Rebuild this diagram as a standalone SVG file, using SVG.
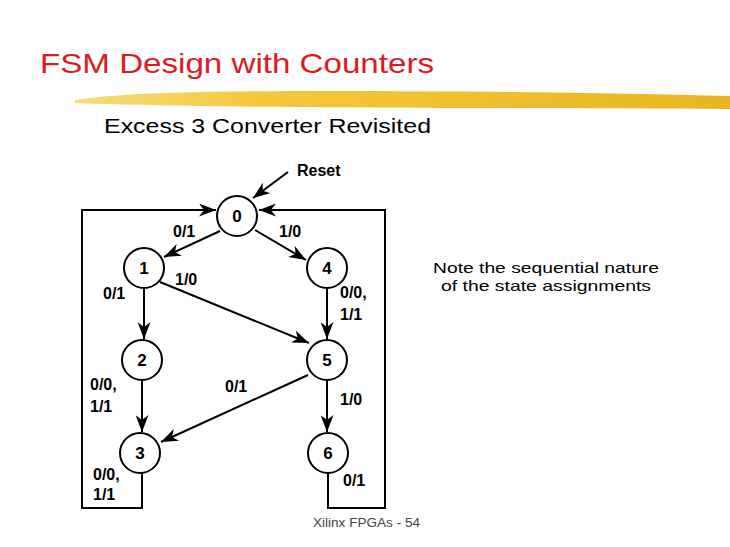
<svg xmlns="http://www.w3.org/2000/svg" width="730" height="547" viewBox="0 0 730 547">
<defs>
<marker id="ah" markerUnits="userSpaceOnUse" markerWidth="17" markerHeight="13" refX="17" refY="6.5" orient="auto">
<path d="M0,0 L17,6.5 L0,13 L5,6.5 Z" fill="#000"/>
</marker>
<linearGradient id="brush" x1="0" y1="0" x2="1" y2="0">
<stop offset="0" stop-color="#f8dc7a"/>
<stop offset="0.3" stop-color="#f3c73a"/>
<stop offset="1" stop-color="#eab520"/>
</linearGradient>
</defs>
<style>
.title{font-family:"Liberation Sans",Arial,sans-serif;font-size:28px;fill:#dc1a1f}
.sub{font-family:"Liberation Sans",Arial,sans-serif;font-size:20px;fill:#000}
.note{font-family:"Liberation Sans",Arial,sans-serif;font-size:15px;fill:#000}
.foot{font-family:"Liberation Sans",Arial,sans-serif;font-size:12px;fill:#444}
.st circle{fill:#fff;stroke:#000;stroke-width:2}
.st text{font-family:"Liberation Sans",Arial,sans-serif;font-size:17px;font-weight:bold;text-anchor:middle;fill:#000}
.lbl{font-family:"Liberation Sans",Arial,sans-serif;font-size:16px;font-weight:bold;fill:#000}
.edge{fill:none;stroke:#000;stroke-width:2;marker-end:url(#ah)}
</style>
<rect width="730" height="547" fill="#fff"/>
<text class="title" x="40" y="73" textLength="394" lengthAdjust="spacingAndGlyphs">FSM Design with Counters</text>
<path d="M75,100 C120,93 200,91 330,91 C480,91 620,93 730,96 L730,109 C560,108 320,108 200,106 C140,105 100,104 75,103 Z" fill="url(#brush)"/>
<text class="sub" x="104" y="133" textLength="327" lengthAdjust="spacingAndGlyphs">Excess 3 Converter Revisited</text>
<g id="connectors">
<path class="edge" d="M288,172 L253,198"/>
<path class="edge" d="M142,473 L142,508 L82,508 L82,210 L216,210"/>
<path class="edge" d="M328,473 L328,508 L385,508 L385,210 L259,210"/>
<path class="edge" d="M220,231 L164,257"/>
<path class="edge" d="M255,230 L306,260"/>
<path class="edge" d="M144,288 L144,339"/>
<path class="edge" d="M327,288 L327,339"/>
<path class="edge" d="M160,282 L309,343"/>
<path class="edge" d="M142,380 L142,432"/>
<path class="edge" d="M308,375 L161,442"/>
<path class="edge" d="M327,380 L327,432"/>
</g>
<g id="s0" class="st"><circle cx="237" cy="216" r="20"/><text x="237" y="222">0</text></g>
<g id="s1" class="st"><circle cx="144" cy="268" r="20"/><text x="144" y="274">1</text></g>
<g id="s4" class="st"><circle cx="327" cy="268" r="20"/><text x="327" y="274">4</text></g>
<g id="s2" class="st"><circle cx="142" cy="360" r="20"/><text x="142" y="366">2</text></g>
<g id="s5" class="st"><circle cx="327" cy="360" r="20"/><text x="327" y="366">5</text></g>
<g id="s3" class="st"><circle cx="140" cy="453" r="20"/><text x="140" y="459">3</text></g>
<g id="s6" class="st"><circle cx="328" cy="453" r="20"/><text x="328" y="459">6</text></g>
<g id="labels">
<text class="lbl" x="297" y="176">Reset</text>
<text class="lbl" x="173" y="237">0/1</text>
<text class="lbl" x="279" y="237">1/0</text>
<text class="lbl" x="175" y="285">1/0</text>
<text class="lbl" x="103" y="299">0/1</text>
<text class="lbl" x="340" y="298">0/0,</text>
<text class="lbl" x="340" y="320">1/1</text>
<text class="lbl" x="90" y="390">0/0,</text>
<text class="lbl" x="90" y="412">1/1</text>
<text class="lbl" x="225" y="392">0/1</text>
<text class="lbl" x="340" y="405">1/0</text>
<text class="lbl" x="93" y="480">0/0,</text>
<text class="lbl" x="93" y="500">1/1</text>
<text class="lbl" x="343" y="486">0/1</text>
</g>
<text class="note" x="546" y="273" text-anchor="middle" textLength="226" lengthAdjust="spacingAndGlyphs">Note the sequential nature</text>
<text class="note" x="546" y="291" text-anchor="middle" textLength="210" lengthAdjust="spacingAndGlyphs">of the state assignments</text>
<text class="foot" x="313" y="527" textLength="107" lengthAdjust="spacingAndGlyphs">Xilinx FPGAs - 54</text>
</svg>
